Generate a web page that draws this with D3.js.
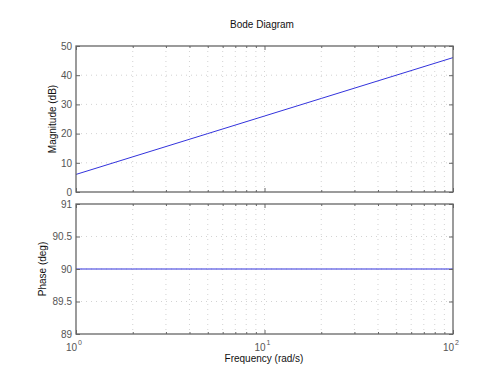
<!DOCTYPE html>
<html><head><meta charset="utf-8">
<script src="https://cdn.jsdelivr.net/npm/d3@7"></script>
<style>body{margin:0;background:#fff}svg{display:block}text{font-family:"Liberation Sans",Arial,sans-serif}</style>
</head><body><div id="chart"></div>
<script>
const freqs = [1, 2, 5, 10, 20, 50, 100];
const magnitude = [6.02, 12.04, 20.0, 26.02, 32.04, 40.0, 46.02];
const phase = [90, 90, 90, 90, 90, 90, 90];
const magTicks = [0, 10, 20, 30, 40, 50];
const phaseTicks = [89, 89.5, 90, 90.5, 91];
const phaseTickLabels = ["89", "89.5", "90", "90.5", "91"];
const decadeTicks = [1, 10, 100];
const decadeExps = ["0", "1", "2"];
const minorTicks = [2,3,4,5,6,7,8,9,20,30,40,50,60,70,80,90];

const W = 500, H = 376;
const svg = d3.select("#chart").append("svg").attr("width", W).attr("height", H);
const L = 76, R = 453;
const top1 = 46, bot1 = 192, top2 = 204, bot2 = 334;
const x = d3.scaleLog().domain([1, 100]).range([L, R]);
const yM = d3.scaleLinear().domain([0, 50]).range([bot1, top1]);
const yP = d3.scaleLinear().domain([89, 91]).range([bot2, top2]);
const axisCol = "#666", gridCol = "#c8c8c8", lineCol = "#3333dd";

function panel(y, yt, labels, top, bot, xs, ys) {
  const g = svg.append("g");
  g.selectAll(".gx").data(minorTicks.concat([10])).join("line")
    .attr("x1", d => x(d)).attr("x2", d => x(d)).attr("y1", top).attr("y2", bot)
    .attr("stroke", gridCol).attr("stroke-width", 0.8).attr("stroke-dasharray", "1,4");
  g.selectAll(".gy").data(yt.slice(1, -1)).join("line")
    .attr("x1", L).attr("x2", R).attr("y1", d => y(d)).attr("y2", d => y(d))
    .attr("stroke", gridCol).attr("stroke-width", 0.8).attr("stroke-dasharray", "1,4");
  g.append("path").datum(xs.map((f, i) => [f, ys[i]]))
    .attr("d", d3.line().x(d => x(d[0])).y(d => y(d[1])))
    .attr("fill", "none").attr("stroke", lineCol).attr("stroke-width", 1);
  const ay = g.append("g").attr("transform", `translate(${L},0)`)
    .call(d3.axisLeft(y).tickValues(yt).tickFormat((d, i) => labels[i]).tickSizeInner(-4).tickSizeOuter(0).tickPadding(4));
  const ay2 = g.append("g").attr("transform", `translate(${R},0)`)
    .call(d3.axisRight(y).tickValues(yt).tickFormat("").tickSizeInner(-4).tickSizeOuter(0));
  const ax = g.append("g").attr("transform", `translate(0,${bot})`)
    .call(d3.axisBottom(x).tickValues(minorTicks).tickFormat("").tickSizeInner(-2).tickSizeOuter(0));
  const ax2 = g.append("g").attr("transform", `translate(0,${top})`)
    .call(d3.axisTop(x).tickValues(minorTicks).tickFormat("").tickSizeInner(-2).tickSizeOuter(0));
  const axM = g.append("g").attr("transform", `translate(0,${bot})`)
    .call(d3.axisBottom(x).tickValues(decadeTicks).tickFormat("").tickSizeInner(-4).tickSizeOuter(0));
  const axM2 = g.append("g").attr("transform", `translate(0,${top})`)
    .call(d3.axisTop(x).tickValues(decadeTicks).tickFormat("").tickSizeInner(-4).tickSizeOuter(0));
  [ay, ay2, ax, ax2, axM, axM2].forEach(a => {
    a.select(".domain").remove();
    a.selectAll("line").attr("stroke", axisCol);
  });
  ay.selectAll("text").attr("fill", "#555").style("font-size", "10px").style("font-family", '"Liberation Sans",Arial,sans-serif');
  g.append("rect").attr("x", L).attr("y", top).attr("width", R - L).attr("height", bot - top)
    .attr("fill", "none").attr("stroke", axisCol).attr("stroke-width", 1.3);
  return g;
}

panel(yM, magTicks, magTicks.map(String), top1, bot1, freqs, magnitude);
panel(yP, phaseTicks, phaseTickLabels, top2, bot2, freqs, phase);

const xl = svg.append("g");
decadeTicks.forEach((d, i) => {
  const t = xl.append("text").attr("x", x(d) - 2).attr("y", bot2 + 17).attr("text-anchor", "middle")
    .attr("fill", "#555").style("font-size", "10px");
  t.append("tspan").text("10");
  t.append("tspan").attr("dy", -6).attr("dx", 1).style("font-size", "7px").text(decadeExps[i]);
});

svg.append("text").attr("x", 262).attr("y", 28).attr("text-anchor", "middle")
  .attr("fill", "#111").style("font-size", "10px").text("Bode Diagram");
svg.append("text").attr("x", 264).attr("y", 362).attr("text-anchor", "middle")
  .attr("fill", "#111").style("font-size", "10px").text("Frequency (rad/s)");
svg.append("text").attr("transform", `translate(56,${(top1 + bot1) / 2}) rotate(-90)`).attr("text-anchor", "middle")
  .attr("fill", "#111").style("font-size", "10px").text("Magnitude (dB)");
svg.append("text").attr("transform", `translate(46,${(top2 + bot2) / 2}) rotate(-90)`).attr("text-anchor", "middle")
  .attr("fill", "#111").style("font-size", "10px").text("Phase (deg)");
</script></body></html>
